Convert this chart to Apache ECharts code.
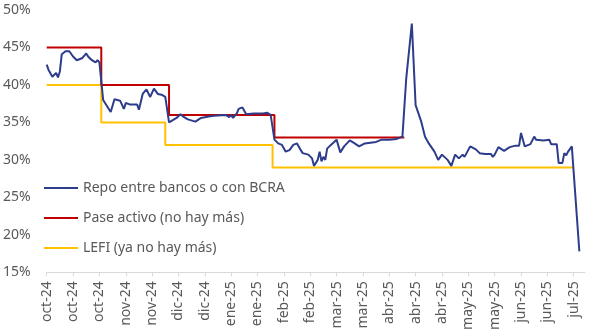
<!DOCTYPE html>
<html>
<head>
<meta charset="utf-8">
<script src="https://cdn.jsdelivr.net/npm/echarts@6/dist/echarts.min.js"></script>
<style>
  html, body { margin: 0; padding: 0; background: #ffffff; }
  #chart { width: 589px; height: 334px; }
</style>
</head>
<body>
<div id="chart"></div>
<script>
// Tasa de repo entre bancos o con BCRA (%), diaria
const repoDates = [
  '2024-10-01','2024-10-02','2024-10-03','2024-10-04','2024-10-05','2024-10-06','2024-10-07','2024-10-08','2024-10-09','2024-10-11',
  '2024-10-12','2024-10-13','2024-10-14','2024-10-15','2024-10-17','2024-10-20','2024-10-22','2024-10-23','2024-10-25','2024-10-27',
  '2024-10-28','2024-10-29','2024-10-30','2024-10-31','2024-11-02','2024-11-04','2024-11-05','2024-11-06','2024-11-09','2024-11-10',
  '2024-11-11','2024-11-12','2024-11-14','2024-11-18','2024-11-19','2024-11-21','2024-11-23','2024-11-25','2024-11-27','2024-11-29',
  '2024-12-01','2024-12-03','2024-12-04','2024-12-05','2024-12-07','2024-12-09','2024-12-11','2024-12-13','2024-12-15','2024-12-19',
  '2024-12-22','2024-12-26','2024-12-29','2025-01-04','2025-01-06','2025-01-07','2025-01-08','2025-01-10','2025-01-11','2025-01-13',
  '2025-01-14','2025-01-15','2025-01-19','2025-01-24','2025-01-26','2025-01-28','2025-01-29','2025-01-30','2025-02-01','2025-02-03',
  '2025-02-05','2025-02-06','2025-02-07','2025-02-09','2025-02-11','2025-02-13','2025-02-14','2025-02-15','2025-02-17','2025-02-18',
  '2025-02-19','2025-02-20','2025-02-22','2025-02-23','2025-02-24','2025-02-25','2025-02-26','2025-02-27','2025-03-01','2025-03-04',
  '2025-03-06','2025-03-08','2025-03-11','2025-03-13','2025-03-16','2025-03-19','2025-03-25','2025-03-28','2025-04-01','2025-04-05',
  '2025-04-08','2025-04-09','2025-04-10','2025-04-13','2025-04-15','2025-04-18','2025-04-20','2025-04-22','2025-04-23','2025-04-25',
  '2025-04-27','2025-04-29','2025-05-02','2025-05-04','2025-05-06','2025-05-08','2025-05-10','2025-05-11','2025-05-14','2025-05-17',
  '2025-05-19','2025-05-22','2025-05-25','2025-05-26','2025-05-27','2025-05-29','2025-06-01','2025-06-04','2025-06-07','2025-06-09',
  '2025-06-10','2025-06-12','2025-06-15','2025-06-17','2025-06-18','2025-06-22','2025-06-25','2025-06-26','2025-06-29','2025-06-30',
  '2025-07-02','2025-07-03','2025-07-04','2025-07-05','2025-07-07','2025-07-11'
];
const repoValues = [
  42.7, 42.0, 41.8, 41.1, 41.3, 41.6, 41.0, 41.8, 44.1, 44.5,
  44.7, 44.5, 44.7, 43.8, 43.3, 43.6, 44.2, 43.8, 43.3, 43.0,
  43.3, 43.0, 42.8, 38.0, 37.2, 36.4, 36.3, 38.1, 37.9, 37.8,
  36.8, 37.6, 37.4, 37.4, 36.7, 38.8, 39.4, 38.4, 39.5, 38.8,
  38.7, 38.4, 38.2, 35.0, 35.3, 35.6, 36.1, 35.7, 35.4, 35.1,
  35.6, 35.8, 35.9, 36.0, 35.7, 36.0, 35.6, 36.2, 36.8, 37.0,
  36.9, 36.1, 36.2, 36.2, 36.3, 36.0, 36.0, 32.7, 32.2, 32.0,
  31.1, 31.0, 31.3, 32.0, 32.2, 31.3, 30.9, 30.8, 30.7, 30.5,
  30.2, 29.2, 30.0, 31.1, 29.8, 30.4, 30.0, 31.5, 32.0, 32.7,
  31.0, 31.8, 32.6, 32.3, 31.8, 32.2, 32.4, 32.7, 32.7, 32.8,
  33.1, 33.2, 40.8, 48.2, 37.3, 35.1, 33.1, 32.2, 32.1, 31.1,
  30.0, 30.7, 30.0, 29.2, 30.7, 30.2, 30.7, 30.4, 31.8, 31.4,
  30.9, 30.8, 30.8, 30.4, 30.7, 31.7, 31.2, 31.7, 31.9, 31.9,
  33.6, 31.8, 32.1, 33.1, 32.7, 32.6, 32.7, 32.1, 32.1, 29.6,
  29.6, 30.9, 30.6, 31.1, 31.8, 17.8
];

// Pase activo: tramos escalonados (fecha de inicio, tasa) y fecha final
const paseDates  = ['2024-10-01', '2024-10-30', '2024-12-05', '2025-01-30', '2025-04-09'];
const paseValues = [45, 40, 36, 33, 33];

// LEFI: tramos escalonados (fecha de inicio, tasa) y fecha final
const lefiDates  = ['2024-10-01', '2024-10-30', '2024-12-03', '2025-01-29', '2025-07-08'];
const lefiValues = [40, 35, 32, 29, 29];

// Marcas del eje de fechas (cada 14 días)
const tickDates = [
  '2024-10-01','2024-10-15','2024-10-29','2024-11-12','2024-11-26','2024-12-10','2024-12-24',
  '2025-01-07','2025-01-21','2025-02-04','2025-02-18','2025-03-04','2025-03-18','2025-04-01',
  '2025-04-15','2025-04-29','2025-05-13','2025-05-27','2025-06-10','2025-06-24','2025-07-08'
];
const tickLabels = [
  'oct-24','oct-24','oct-24','nov-24','nov-24','dic-24','dic-24',
  'ene-25','ene-25','feb-25','feb-25','mar-25','mar-25','abr-25',
  'abr-25','abr-25','may-25','may-25','jun-25','jun-25','jul-25'
];
const axisStart = '2024-10-01';
const axisEnd   = '2025-07-14';

const yTicks = { min: 15, max: 50, step: 5 };

// Fechas como días transcurridos desde el inicio del eje
const utc = s => { const p = s.split('-').map(Number); return Date.UTC(p[0], p[1] - 1, p[2]); };
const day = s => Math.round((utc(s) - utc(axisStart)) / 86400000);
const zip = (d, v) => d.map((x, i) => [day(x), v[i]]);
const tickValues = tickDates.map(day);
const labelByDay = {};
tickValues.forEach((t, i) => { labelByDay[t] = tickLabels[i]; });

const FONT = 'Noto Sans';
const GREY = '#595959';

const chart = echarts.init(document.getElementById('chart'), null, { renderer: 'canvas' });
chart.setOption({
  animation: false,
  backgroundColor: '#ffffff',
  textStyle: { fontFamily: FONT },
  grid: { left: 46.7, right: 4, top: 10, bottom: 61.7, containLabel: false },
  legend: {
    orient: 'vertical',
    left: 44, top: 181,
    padding: 0,
    itemGap: 16,
    icon: 'rect',
    itemWidth: 34, itemHeight: 2,
    textStyle: { fontFamily: FONT, fontSize: 14, color: GREY },
    data: ['Repo entre bancos o con BCRA', 'Pase activo (no hay más)', 'LEFI (ya no hay más)']
  },
  xAxis: {
    type: 'value',
    min: day(axisStart),
    max: day(axisEnd),
    axisLine: { show: true, lineStyle: { color: '#d9d9d9', width: 1 } },
    axisTick: { show: true, length: 4, lineStyle: { color: '#d9d9d9' }, customValues: tickValues },
    axisLabel: {
      customValues: tickValues,
      rotate: 90,
      margin: 9,
      fontFamily: FONT, fontSize: 14, color: GREY,
      formatter: v => labelByDay[v] || ''
    },
    splitLine: { show: false }
  },
  yAxis: {
    type: 'value',
    min: yTicks.min, max: yTicks.max, interval: yTicks.step,
    axisLine: { show: false },
    axisTick: { show: false },
    splitLine: { show: false },
    axisLabel: { margin: 16, fontFamily: FONT, fontSize: 14, color: GREY, formatter: '{value}%' }
  },
  series: [
    {
      name: 'LEFI (ya no hay más)', type: 'line', step: 'end', symbol: 'none',
      color: '#ffc000', lineStyle: { width: 2, color: '#ffc000' },
      data: zip(lefiDates, lefiValues), z: 2
    },
    {
      name: 'Pase activo (no hay más)', type: 'line', step: 'end', symbol: 'none',
      color: '#c00000', lineStyle: { width: 2, color: '#c00000' },
      data: zip(paseDates, paseValues), z: 3
    },
    {
      name: 'Repo entre bancos o con BCRA', type: 'line', symbol: 'none',
      color: '#2e3c8c', lineStyle: { width: 2, color: '#2e3c8c' },
      data: zip(repoDates, repoValues), z: 4
    }
  ]
});
</script>
</body>
</html>
